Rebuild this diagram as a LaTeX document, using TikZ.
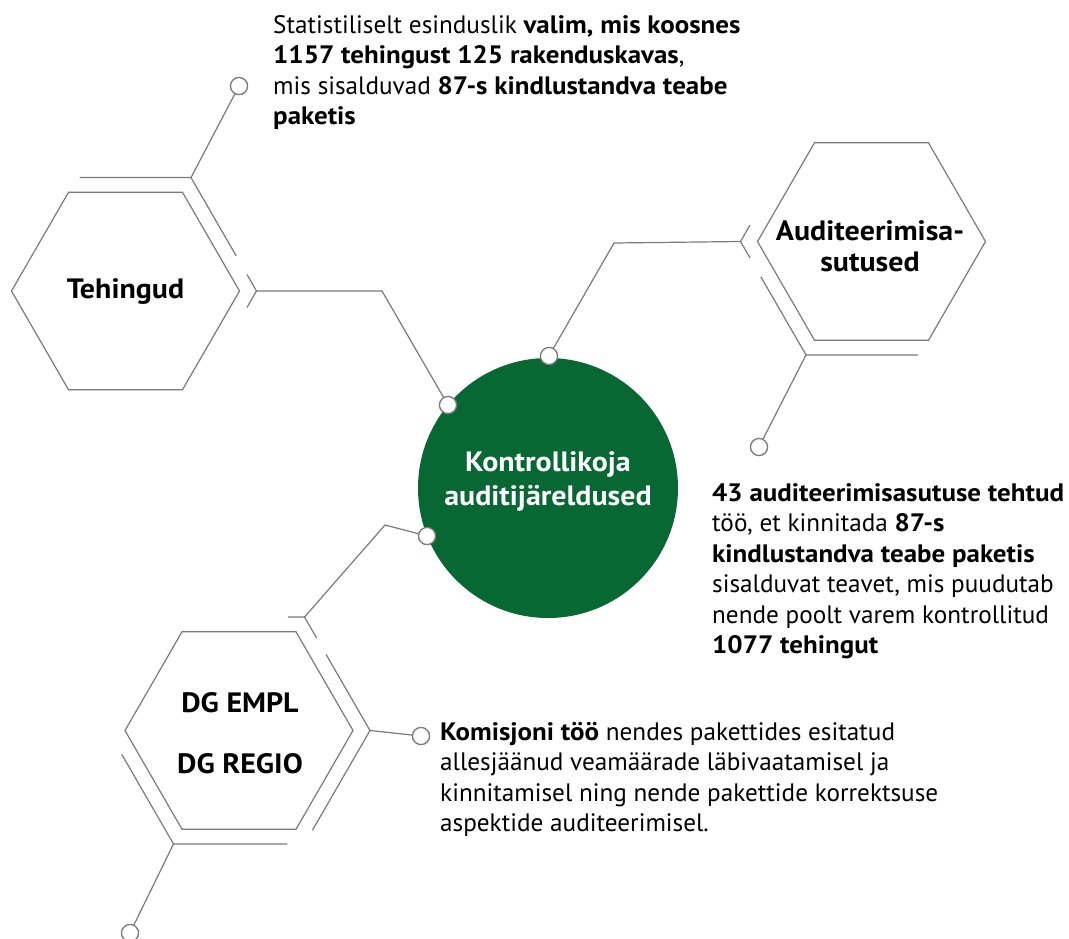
\documentclass[tikz,border=0pt]{standalone}
\usepackage{fontspec}
\setmainfont{PT Sans}[BoldFeatures={FakeStretch=1.07}]
\usetikzlibrary{shapes.geometric,calc}
\definecolor{eugreen}{RGB}{8,104,52}
\definecolor{linegray}{RGB}{122,122,122}
\begin{document}
\begin{tikzpicture}[x=1pt,y=-1pt,
  hexa/.style={regular polygon, regular polygon sides=6, minimum size=228pt, inner sep=0pt, outer sep=0pt, draw=linegray, line width=1.2pt},
  hexlabel/.style={font=\fontsize{28}{31}\selectfont\bfseries, align=center, inner sep=0pt},
  conn/.style={draw=linegray, line width=1.2pt},
  dot/.style={circle, minimum size=17pt, inner sep=0pt, outer sep=0pt, fill=white, draw=linegray, line width=1.2pt},
  body/.style={font=\fontsize{25.2}{30.5}\selectfont, align=left, inner sep=0pt, anchor=north west},
]
\useasboundingbox (0,0) rectangle (1069,938);

% central circle
\node[circle, fill=eugreen, minimum size=260pt, inner sep=0pt] (ctr) at (548,488) {};
\node[hexlabel, text=white, font=\fontsize{28}{34}\selectfont\bfseries] (ctrtext) at (548,481) {Kontrollikoja\\auditijäreldused};

% hexagons
\node[hexa] (teh) at (125.5,291) {};
\node[hexlabel] (tehtext) at (125.5,292) {Tehingud};
\node[hexa] (aud) at (871.5,241.5) {};
\node[hexlabel] (audtext) at (870,246) {Auditeerimisa-\\sutused};
\node[hexa] (dg) at (239,730.5) {};
\node[hexlabel] (dgtext) at (240,733) {DG EMPL\\[30pt]DG REGIO};

% outer vertices
\foreach \h in {teh,aud,dg}{
  \coordinate (\h R)  at ($(\h.center)+(0:131)$);
  \coordinate (\h BR) at ($(\h.center)+(60:131)$);
  \coordinate (\h BL) at ($(\h.center)+(120:131)$);
  \coordinate (\h L)  at ($(\h.center)+(180:131)$);
  \coordinate (\h TL) at ($(\h.center)+(240:131)$);
  \coordinate (\h TR) at ($(\h.center)+(300:131)$);
}

% dots
\node[dot] (dTop) at (239,86) {};
\node[dot] (dTeh) at (448,405) {};
\node[dot] (dAud) at (549,356) {};
\node[dot] (dAud2) at (759,447) {};
\node[dot] (dDg) at (427,536) {};
\node[dot] (dKom) at (421,736) {};
\node[dot] (dBot) at (130,933) {};

% bends
\coordinate (kTeh) at (382,291);
\coordinate (kAud) at (614,243);
\coordinate (kDg) at (385,525);

% Tehingud outer fragments
\draw[conn] ($(tehTL)!0.15!(tehTR)$) -- (tehTR) -- ($(tehTR)!0.69!(tehR)$);
\draw[conn] ($(tehR)!0.145!(tehTR)$) -- (tehR) -- ($(tehR)!0.145!(tehBR)$);
% Auditeerimisasutused outer fragments
\draw[conn] ($(audL)!0.145!(audTL)$) -- (audL) -- ($(audL)!0.145!(audBL)$);
\draw[conn] ($(audL)!0.31!(audBL)$) -- (audBL) -- ($(audBL)!0.855!(audBR)$);
% DG outer fragments
\draw[conn] ($(dgTR)!0.126!(dgTL)$) -- (dgTR) -- ($(dgTR)!0.185!(dgR)$);
\draw[conn] ($(dgTR)!0.33!(dgR)$) -- (dgR) -- ($(dgR)!0.88!(dgBR)$);
\draw[conn] ($(dgBR)!0.13!(dgBL)$) -- (dgBL) -- ($(dgBL)!0.79!(dgL)$);

% connectors
\draw[conn] (tehTR) -- (dTop);
\draw[conn] (tehR) -- (kTeh) -- (dTeh);
\draw[conn] (audL) -- (kAud) -- (dAud);
\draw[conn] (audBL) -- (dAud2);
\draw[conn] (dgTR) -- (kDg) -- (dDg);
\draw[conn] (dgR) -- (dKom);
\draw[conn] (dgBL) -- (dBot);

% redraw dots on top
\foreach \p in {(239,86),(448,405),(549,356),(759,447),(427,536),(421,736),(130,933)}{
  \node[dot] at \p {};
}

% texts
\node[body] (toptext) at (273,15) {Statistiliselt esinduslik \textbf{valim, mis koosnes}\\\textbf{1157 tehingust 125 rakenduskavas},\\mis sisalduvad \textbf{87-s kindlustandva teabe}\\\textbf{paketis}};
\node[body] (righttext) at (712,483) {\textbf{43 auditeerimisasutuse tehtud}\\töö, et kinnitada \textbf{87-s}\\\textbf{kindlustandva teabe paketis}\\sisalduvat teavet, mis puudutab\\nende poolt varem kontrollitud\\\textbf{1077 tehingut}};
\node[body] (bottext) at (440,722) {\textbf{Komisjoni töö} nendes pakettides esitatud\\allesjäänud veamäärade läbivaatamisel ja\\kinnitamisel ning nende pakettide korrektsuse\\aspektide auditeerimisel.};
\end{tikzpicture}
\end{document}
